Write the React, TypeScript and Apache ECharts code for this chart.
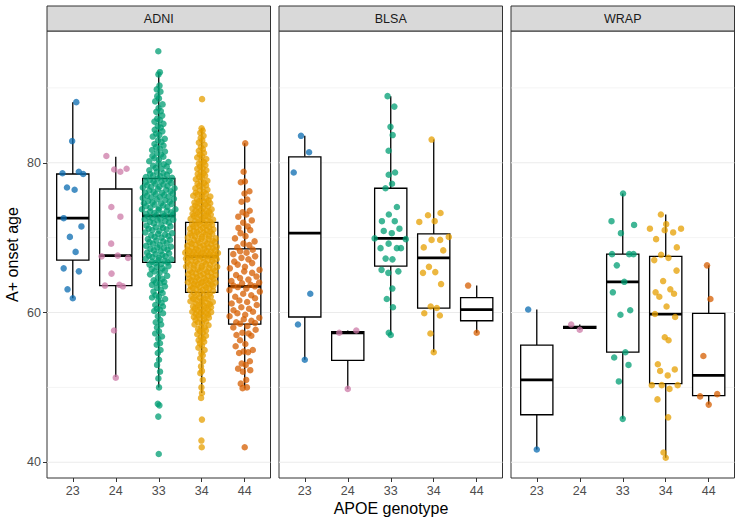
import React, { useEffect, useRef } from 'react';
import * as echarts from 'echarts';

const genotypes = ['23', '24', '33', '34', '44'];
const studies = ['ADNI', 'BLSA', 'WRAP'];
const genotypeColors = ['#0A6BB0', '#CC79A7', '#009E73', '#E69F00', '#D55E00'];

// ---------- ADNI ----------
const adni23 = [88.1, 82.9, 78.8, 78.6, 78.5, 76.7, 76.4, 72.6, 71.5, 70.1, 68.1, 65.9, 65.5, 63.1, 61.9];
const adni24 = [80.9, 79.2, 79.1, 78.8, 74.1, 72.8, 69.2, 67.6, 67.5, 67.3, 65.2, 63.7, 63.6, 63.5, 57.6, 51.3];
const adni33 = [
  94.9, 92.1, 91.8, 90.3, 89.8, 89.5, 88.9, 88.6, 88.2, 87.8, 87.3, 86.9, 86.8, 86.3, 85.9, 85.7, 85.5, 85.2, 84.9, 84.7,
  84.4, 84.2, 83.9, 83.7, 83.5, 83.2, 83.0, 82.8, 82.5, 82.3, 82.1, 81.9, 81.7, 81.5, 81.3, 81.1, 80.9, 80.8, 80.6, 80.4,
  80.2, 80.1, 79.9, 79.8, 79.6, 79.5, 79.3, 79.2, 79.0, 78.9, 78.8, 78.6, 78.5, 78.4, 78.3, 78.2, 78.1, 78.0,
  77.9, 77.8, 77.7, 77.6, 77.5, 77.4, 77.3, 77.2, 77.1, 77.0, 76.9, 76.8, 76.7, 76.6, 76.5, 76.4, 76.3, 76.2, 76.1, 76.0,
  75.9, 75.8, 75.7, 75.6, 75.5, 75.4, 75.3, 75.2, 75.1, 75.0, 74.9, 74.8, 74.7, 74.6, 74.5, 74.4, 74.3, 74.2, 74.1, 74.0,
  73.9, 73.8, 73.7, 73.6, 73.5, 73.4, 73.3, 73.2, 73.1, 73.0, 72.9, 77.5, 76.8, 76.0, 75.4, 74.6, 73.8, 73.2,
  72.8, 72.7, 72.6, 72.5, 72.4, 72.3, 72.2, 72.1, 72.0, 71.9, 71.7, 71.6, 71.5, 71.4, 71.2, 71.1, 71.0, 70.9, 70.7, 70.6,
  70.5, 70.3, 70.2, 70.1, 70.0, 69.8, 69.7, 69.6, 69.4, 69.3, 69.2, 69.0, 68.9, 68.8, 68.7, 68.5, 68.4, 68.3, 68.2, 68.0,
  67.9, 67.8, 67.7, 67.6, 67.5, 67.4, 67.3, 67.2, 67.1, 67.0, 66.9, 66.8, 66.7, 72.45, 71.3, 70.4, 69.5, 68.6,
  66.6, 66.5, 66.4, 66.2, 66.1, 65.9, 65.8, 65.6, 65.5, 65.3, 65.1, 64.9, 64.7, 64.5, 64.3, 64.1, 63.9, 63.7, 63.5, 63.3,
  63.0, 62.8, 62.6, 62.3, 62.1, 61.8, 61.6, 61.3, 61.0, 60.8, 60.5, 60.4, 60.2, 59.9, 59.5, 59.0, 58.7, 58.4, 58.0, 57.5,
  57.2, 56.8, 56.5, 55.9, 55.7, 55.0, 54.6, 53.7, 53.0, 52.1, 51.2, 50.0, 47.8, 47.6, 46.1, 41.1, 64.0, 62.0
];
const adni34 = [
  88.5, 84.6, 84.3, 84.0, 83.6, 83.3, 83.0, 82.7, 82.4, 82.1, 81.8, 81.6, 81.3, 81.1, 80.9, 80.7, 80.5, 80.3, 80.1,
  79.9, 79.7, 79.5, 79.3, 79.2, 79.0, 78.8, 78.6, 78.5, 78.3, 78.1, 78.0, 77.8, 77.6, 77.5, 77.3, 77.2, 77.0, 76.9, 76.7,
  76.6, 76.4, 76.3, 76.1, 76.0, 75.9, 75.7, 75.6, 75.5, 75.3, 75.2, 75.1, 74.9, 74.8, 74.7, 74.6, 74.4, 74.3, 74.2, 74.1,
  73.9, 73.8, 73.7, 73.6, 73.5, 73.4, 73.3, 73.2, 73.1, 73.0, 72.9, 72.8, 72.7, 72.6, 72.5, 72.4, 72.3, 72.2, 72.1,
  75.8, 75.0, 74.5, 74.0, 73.6, 72.9, 72.3,
  72.0, 71.9, 71.8, 71.7, 71.6, 71.5, 71.4, 71.3, 71.2, 71.1, 71.0, 70.9, 70.8, 70.7, 70.6, 70.5, 70.4, 70.3, 70.2, 70.1,
  70.0, 69.9, 69.8, 69.7, 69.6, 69.5, 69.4, 69.3, 69.2, 69.1, 69.0, 68.9, 68.8, 68.7, 68.6, 68.5, 68.4, 68.3, 68.2, 68.1,
  68.0, 67.9, 67.8, 67.7, 67.6, 67.5,
  71.7, 71.35, 71.05, 70.75, 70.45, 70.15, 69.85, 69.6, 69.4, 69.2, 68.95, 68.8, 68.65, 68.5, 68.35, 68.25, 68.15, 68.05,
  67.95, 67.85, 67.75, 67.65, 67.55, 67.52,
  67.45, 67.4, 67.3, 67.2, 67.1, 67.0, 66.9, 66.8, 66.7, 66.6, 66.5, 66.4, 66.3, 66.2, 66.1, 66.0, 65.9, 65.8, 65.7, 65.6,
  65.5, 65.4, 65.3, 65.2, 65.1, 65.0, 64.9, 64.8, 64.7, 64.6, 64.5, 64.4, 64.3, 64.2, 64.1, 64.0, 63.9, 63.8, 63.7, 63.6,
  63.5, 63.4, 63.3, 63.2, 63.1, 63.0, 62.9, 62.8, 62.7,
  67.35, 67.15, 66.95, 66.75, 66.55, 66.35, 66.15, 65.95, 65.75, 65.55, 65.35, 65.15, 64.95, 64.75, 64.55, 64.35, 64.15,
  63.95, 63.75, 63.55, 63.35, 63.05, 64.05,
  62.6, 62.5, 62.4, 62.3, 62.2, 62.1, 62.0, 61.9, 61.8, 61.7, 61.6, 61.5, 61.4, 61.3, 61.2, 61.1, 61.0, 60.9, 60.8, 60.7,
  60.6, 60.5, 60.4, 60.3, 60.2, 60.1, 60.0, 59.9, 59.8, 59.7, 59.6, 59.4, 59.3, 59.2, 59.1, 59.0, 58.8, 58.7, 58.6, 58.4,
  58.3, 58.1, 58.0, 57.8, 57.6, 57.5, 57.3, 57.1, 56.9, 56.7, 56.5, 56.3, 56.1, 55.9, 55.6, 55.3, 55.0, 54.6, 54.3, 53.9,
  53.5, 52.8, 52.2, 51.9, 51.0, 50.0, 49.25, 48.6, 45.7, 42.9, 42.0, 61.85, 61.25, 60.65, 60.05, 59.55
];
const adni44 = [
  82.6, 78.8, 77.5, 77.4, 76.2, 75.9, 75.1, 74.8, 73.6, 73.4, 73.1, 72.8, 72.3, 72.0, 71.5, 71.3, 71.0, 70.6, 70.2, 69.9,
  69.5, 69.2, 69.0, 68.7,
  68.4, 68.2, 68.0, 67.8, 67.5, 67.3, 67.1, 66.8, 66.6, 66.4, 66.1, 65.9, 65.7, 65.5, 65.3, 65.0, 64.8, 64.6, 64.4, 64.2,
  64.0, 63.9, 63.7, 63.6, 63.5,
  63.4, 63.2, 63.0, 62.8, 62.5, 62.3, 62.1, 61.9, 61.6, 61.4, 61.2, 61.0, 60.7, 60.5, 60.3, 60.1, 59.9, 59.7, 59.5, 59.3,
  59.1, 58.9, 58.7, 58.6, 58.5,
  58.2, 58.0, 57.7, 57.3, 57.2, 57.0, 56.9, 56.3, 55.8, 55.5, 55.0, 54.8, 54.7, 54.6, 53.5, 53.2, 53.0, 52.5, 52.3, 52.1,
  51.0, 50.5, 50.0, 49.9, 42.0
];
// [lower whisker, Q1, median, Q3, upper whisker]
const adniBox = [
  [61.9, 67.0, 72.6, 78.5, 88.1],
  [51.4, 63.6, 67.6, 76.5, 80.8],
  [50.0, 66.7, 72.9, 77.9, 92.05],
  [49.25, 62.7, 67.5, 72.05, 84.6],
  [49.9, 58.45, 63.5, 68.5, 82.6]
];

// ---------- BLSA ----------
const blsa23 = [83.6, 81.4, 78.7, 62.5, 58.4, 53.7];
const blsa24 = [57.3, 57.6, 49.8];
const blsa33 = [88.9, 87.5, 84.8, 83.7, 81.6, 78.7, 78.4, 77.2, 76.6, 74.1, 73.1, 72.2, 72.2, 71.2, 70.9, 70.6, 69.9, 69.8,
  69.2, 68.6, 68.6, 68.6, 67.2, 67.1, 65.7, 65.5, 65.3, 63.2, 61.8, 60.7, 57.3, 57.0];
const blsa34 = [83.1, 73.3, 73.0, 72.2, 72.1, 70.1, 69.7, 69.7, 68.7, 68.3, 66.1, 65.4, 65.3, 63.8, 60.8, 60.6, 59.9, 59.6,
  57.2, 54.7];
const blsa44 = [63.6, 57.3];
const blsaBox = [
  [53.7, 59.4, 70.6, 80.8, 83.6],
  [49.8, 53.6, 57.3, 57.45, 57.6],
  [57.0, 66.2, 69.9, 76.6, 88.9],
  [54.7, 60.6, 67.3, 70.5, 83.1],
  [57.3, 58.9, 60.4, 62.0, 63.6]
];

// ---------- WRAP ----------
const wrap23 = [60.4, 41.7];
const wrap24 = [58.4, 57.7];
const wrap33 = [75.9, 72.2, 71.7, 70.6, 67.8, 67.8, 67.8, 66.3, 64.1, 62.7, 60.3, 59.7, 54.7, 54.0, 53.0, 50.8, 45.8];
const wrap34 = [73.1, 71.8, 71.2, 71.2, 71.0, 70.7, 69.8, 68.7, 67.7, 67.3, 67.0, 65.6, 64.2, 63.1, 62.7, 62.5, 62.1, 60.8,
  59.8, 59.4, 56.7, 56.3, 53.1, 52.4, 52.2, 51.6, 50.3, 50.3, 50.3, 49.8, 48.4, 46.0, 41.3, 40.6];
const wrap44 = [66.3, 61.8, 54.2, 48.8, 49.1, 47.7];
const wrapBox = [
  [41.7, 46.35, 51.0, 55.65, 60.4],
  [57.7, 57.88, 58.0, 58.15, 58.4],
  [45.8, 54.7, 64.1, 67.8, 75.9],
  [40.6, 50.5, 59.8, 67.5, 73.1],
  [47.7, 48.9, 51.6, 59.9, 66.3]
];

const studyPoints = [
  [adni23, adni24, adni33, adni34, adni44],
  [blsa23, blsa24, blsa33, blsa34, blsa44],
  [wrap23, wrap24, wrap33, wrap34, wrap44]
];
const studyBoxes = [adniBox, blsaBox, wrapBox];

const yMajor = [40, 60, 80];
const yMinor = [50, 70, 90];

// ---------- layout ----------
const Y_MIN = 37.9;
const Y_MAX = 97.6;
const PANEL_LEFT = [47, 279, 511];
const PANEL_W = 223.5;
const PANEL_TOP = 31;
const PANEL_H = 447;
const STRIP_TOP = 6;
const FONT = '"Liberation Sans", Arial, Helvetica, sans-serif';

// quasirandom (van der Corput) offsets, like ggbeeswarm::geom_quasirandom
function vanDerCorput(n: number): number[] {
  const out: number[] = [];
  for (let i = 1; i <= n; i++) {
    let v = 0, denom = 1, k = i;
    while (k > 0) { denom *= 2; v += (k % 2) / denom; k = Math.floor(k / 2); }
    out.push(v);
  }
  return out;
}
function quantile(sorted: number[], p: number) {
  const h = (sorted.length - 1) * p;
  const lo = Math.floor(h);
  const hi = Math.min(lo + 1, sorted.length - 1);
  return sorted[lo] + (h - lo) * (sorted[hi] - sorted[lo]);
}
function quasiOffsets(vals: number[], width = 0.4, adjust = 0.5): number[] {
  const n = vals.length;
  if (n < 2) return vals.map(() => 0);
  const sorted = [...vals].sort((a, b) => a - b);
  const mean = vals.reduce((a, b) => a + b, 0) / n;
  const sd = Math.sqrt(vals.reduce((a, b) => a + (b - mean) ** 2, 0) / (n - 1));
  const iqr = quantile(sorted, 0.75) - quantile(sorted, 0.25);
  let lo = Math.min(sd, iqr / 1.34);
  if (!lo) lo = sd || Math.abs(sorted[0]) || 1;
  const bw = adjust * 0.9 * lo * Math.pow(n, -0.2);
  const dens = (y: number) => vals.reduce((s, v) => s + Math.exp(-0.5 * ((y - v) / bw) ** 2), 0);
  let maxD = 0;
  const g0 = sorted[0] - 3 * bw, g1 = sorted[n - 1] + 3 * bw;
  for (let i = 0; i < 512; i++) maxD = Math.max(maxD, dens(g0 + (g1 - g0) * i / 511));
  const order = vals.map((v, i) => i).sort((a, b) => vals[a] - vals[b] || a - b);
  const rank = new Array(n);
  order.forEach((idx, r) => { rank[idx] = r; });
  const vdc = vanDerCorput(n);
  return vals.map((v, i) => (vdc[rank[i]] - 0.5) * 2 * width * dens(v) / maxD);
}

function buildOption() {
  const grid = studies.map((_, i) => ({
    left: PANEL_LEFT[i], top: PANEL_TOP, width: PANEL_W, height: PANEL_H,
    show: true, backgroundColor: '#FFFFFF', borderColor: '#333333', borderWidth: 1, containLabel: false
  }));
  const xAxis = studies.map((_, i) => ({
    type: 'value', gridIndex: i, min: 0.4, max: 5.6,
    splitLine: { show: false }, axisLine: { show: false },
    axisTick: { show: true, customValues: [1, 2, 3, 4, 5], length: 4, lineStyle: { color: '#333333', width: 1 } },
    axisLabel: {
      show: true, customValues: [1, 2, 3, 4, 5], margin: 6, color: '#4D4D4D', fontSize: 12.5, fontFamily: FONT,
      formatter: (v: number) => genotypes[Math.round(v) - 1] ?? ''
    }
  }));
  const yAxis = studies.map((_, i) => ({
    type: 'value', gridIndex: i, min: Y_MIN, max: Y_MAX,
    splitLine: { show: false }, axisLine: { show: false },
    axisTick: { show: i === 0, customValues: yMajor, length: 4, lineStyle: { color: '#333333', width: 1 } },
    axisLabel: { show: i === 0, customValues: yMajor, margin: 6, color: '#4D4D4D', fontSize: 12.5, fontFamily: FONT }
  }));

  const series: any[] = [];
  studies.forEach((_, s) => {
    const gl = yMajor.map((v) => [1, v, 1]).concat(yMinor.map((v) => [1, v, 0]));
    series.push({
      type: 'custom', xAxisIndex: s, yAxisIndex: s, z: 1, silent: true,
      encode: { x: 0, y: 1 }, data: gl,
      renderItem: (params: any, api: any) => {
        const cs = params.coordSys;
        const y = api.coord([1, api.value(1)])[1];
        const major = api.value(2) === 1;
        return {
          type: 'line',
          shape: { x1: cs.x, y1: y, x2: cs.x + cs.width, y2: y },
          style: { stroke: '#EBEBEB', lineWidth: major ? 1.1 : 0.6 }
        };
      }
    });
    const boxData = studyBoxes[s].map((b, k) => [k + 1, ...b]);
    series.push({
      type: 'custom', xAxisIndex: s, yAxisIndex: s, z: 2, silent: true,
      encode: { x: 0, y: [1, 2, 3, 4, 5] }, data: boxData,
      renderItem: (params: any, api: any) => {
        const x = api.value(0);
        const pLow = api.coord([x, api.value(1)]);
        const pQ1 = api.coord([x, api.value(2)]);
        const pMed = api.coord([x, api.value(3)]);
        const pQ3 = api.coord([x, api.value(4)]);
        const pUp = api.coord([x, api.value(5)]);
        const hw = api.size([0.75, 0])[0] / 2;
        const cx = pMed[0];
        const stroke = { stroke: '#000000', lineWidth: 1.3 };
        return {
          type: 'group',
          children: [
            { type: 'line', shape: { x1: cx, y1: pUp[1], x2: cx, y2: pQ3[1] }, style: stroke },
            { type: 'line', shape: { x1: cx, y1: pQ1[1], x2: cx, y2: pLow[1] }, style: stroke },
            { type: 'rect', shape: { x: cx - hw, y: pQ3[1], width: 2 * hw, height: pQ1[1] - pQ3[1] },
              style: { fill: '#FFFFFF', stroke: '#000000', lineWidth: 1.3 } },
            { type: 'line', shape: { x1: cx - hw, y1: pMed[1], x2: cx + hw, y2: pMed[1] },
              style: { stroke: '#000000', lineWidth: 2.8 } }
          ]
        };
      }
    });
    studyPoints[s].forEach((vals, k) => {
      const offs = quasiOffsets(vals);
      series.push({
        type: 'scatter', xAxisIndex: s, yAxisIndex: s, z: 3, silent: true,
        symbol: 'circle', symbolSize: 6.5,
        itemStyle: { color: genotypeColors[k], opacity: 0.75 },
        data: vals.map((v, i) => [k + 1 + offs[i], v])
      });
    });
  });

  const graphic: any[] = [];
  studies.forEach((name, s) => {
    graphic.push({
      type: 'rect', silent: true,
      shape: { x: PANEL_LEFT[s], y: STRIP_TOP, width: PANEL_W, height: PANEL_TOP - STRIP_TOP },
      style: { fill: '#D9D9D9', stroke: '#333333', lineWidth: 1 }
    });
    graphic.push({
      type: 'text', silent: true,
      x: PANEL_LEFT[s] + PANEL_W / 2, y: (STRIP_TOP + PANEL_TOP) / 2 + 0.5,
      style: { text: name, align: 'center', verticalAlign: 'middle', fill: '#1A1A1A', fontSize: 12.5, fontFamily: FONT }
    });
  });
  graphic.push({
    type: 'text', silent: true, x: 391, y: 508,
    style: { text: 'APOE genotype', align: 'center', verticalAlign: 'middle', fill: '#000000', fontSize: 16, fontFamily: FONT }
  });
  graphic.push({
    type: 'text', silent: true, x: 12.5, y: PANEL_TOP + PANEL_H / 2, rotation: Math.PI / 2,
    style: { text: 'A+ onset age', align: 'center', verticalAlign: 'middle', fill: '#000000', fontSize: 16, fontFamily: FONT }
  });

  return {
    animation: false,
    backgroundColor: '#FFFFFF',
    grid, xAxis, yAxis, series, graphic
  };
}

export default function App() {
  const ref = useRef<HTMLDivElement>(null);
  useEffect(() => {
    document.body.style.margin = '0';
    if (!ref.current) return;
    const chart = echarts.init(ref.current, undefined, { renderer: 'svg' });
    chart.setOption(buildOption() as any);
    return () => { chart.dispose(); };
  }, []);
  return <div ref={ref} style={{ width: 740, height: 523 }} />;
}
